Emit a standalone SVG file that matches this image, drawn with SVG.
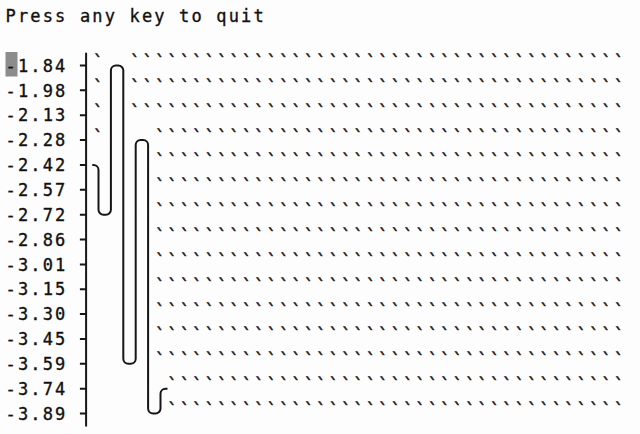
<svg xmlns="http://www.w3.org/2000/svg" width="640" height="434" viewBox="0 0 640 434">
<style>
.t{font-family:"DejaVu Sans Mono","Liberation Mono",monospace;font-size:17px;letter-spacing:2.165px;fill:#111;stroke:#111;stroke-width:0.35px}
.d{font-family:"DejaVu Sans Mono","Liberation Mono",monospace;font-size:17px;letter-spacing:2.165px;fill:#1a1a1a;stroke:#1a1a1a;stroke-width:0.45px}
.ln{fill:none;stroke:#161616;stroke-width:2;stroke-linejoin:round;stroke-linecap:butt}
</style>
<rect width="640" height="434" fill="#fefdfe"/>
<g id="title"><text class="t" x="5.5" y="21.7">Press any key to quit</text></g>
<g id="cursor"><rect x="5.5" y="52" width="12" height="24.5" fill="#8c8c8c"/></g>
<g id="labels">
<text class="t" x="5.5" y="71.7">-1.84</text>
<text class="t" x="5.5" y="96.56">-1.98</text>
<text class="t" x="5.5" y="121.42">-2.13</text>
<text class="t" x="5.5" y="146.28">-2.28</text>
<text class="t" x="5.5" y="171.14">-2.42</text>
<text class="t" x="5.5" y="196">-2.57</text>
<text class="t" x="5.5" y="220.86">-2.72</text>
<text class="t" x="5.5" y="245.72">-2.86</text>
<text class="t" x="5.5" y="270.58">-3.01</text>
<text class="t" x="5.5" y="295.44">-3.15</text>
<text class="t" x="5.5" y="320.3">-3.30</text>
<text class="t" x="5.5" y="345.16">-3.45</text>
<text class="t" x="5.5" y="370.02">-3.59</text>
<text class="t" x="5.5" y="394.88">-3.74</text>
<text class="t" x="5.5" y="419.74">-3.89</text>
</g>
<g id="axis" class="ln">
<path d="M86.1 52.7V426.5"/>
<path d="M79.9 65.5H86.1M79.9 90.36H86.1M79.9 115.22H86.1M79.9 140.08H86.1M79.9 164.94H86.1M79.9 189.8H86.1M79.9 214.66H86.1M79.9 239.52H86.1M79.9 264.38H86.1M79.9 289.24H86.1M79.9 314.1H86.1M79.9 338.96H86.1M79.9 363.82H86.1M79.9 388.68H86.1M79.9 413.54H86.1"/>
</g>
<g id="grid">
<text class="d" x="92.9" y="68">`</text>
<text class="d" x="92.9" y="92.86">`</text>
<text class="d" x="92.9" y="117.72">`</text>
<text class="d" x="92.9" y="142.58">`</text>
<text class="d" x="130.1" y="68">````````````````````````````````````````</text>
<text class="d" x="130.1" y="92.86">````````````````````````````````````````</text>
<text class="d" x="130.1" y="117.72">````````````````````````````````````````</text>
<text class="d" x="154.9" y="142.58">``````````````````````````````````````</text>
<text class="d" x="154.9" y="167.44">``````````````````````````````````````</text>
<text class="d" x="154.9" y="192.3">``````````````````````````````````````</text>
<text class="d" x="154.9" y="217.16">``````````````````````````````````````</text>
<text class="d" x="154.9" y="242.02">``````````````````````````````````````</text>
<text class="d" x="154.9" y="266.88">``````````````````````````````````````</text>
<text class="d" x="154.9" y="291.74">``````````````````````````````````````</text>
<text class="d" x="154.9" y="316.6">``````````````````````````````````````</text>
<text class="d" x="154.9" y="341.46">``````````````````````````````````````</text>
<text class="d" x="154.9" y="366.32">``````````````````````````````````````</text>
<text class="d" x="167.3" y="391.18">`````````````````````````````````````</text>
<text class="d" x="167.3" y="416.04">`````````````````````````````````````</text>
</g>
<g id="connectors">
<path id="series" class="ln" d="M92.3 164.94H93.5A5 5 0 0 1 98.5 169.94V209.66A5 5 0 0 0 103.5 214.66H105.9A5 5 0 0 0 110.9 209.66V70.5A5 5 0 0 1 115.9 65.5H118.3A5 5 0 0 1 123.3 70.5V358.82A5 5 0 0 0 128.3 363.82H130.7A5 5 0 0 0 135.7 358.82V145.08A5 5 0 0 1 140.7 140.08H143.1A5 5 0 0 1 148.1 145.08V408.54A5 5 0 0 0 153.1 413.54H155.5A5 5 0 0 0 160.5 408.54V393.68A5 5 0 0 1 165.5 388.68H167.5"/>
</g>
</svg>
